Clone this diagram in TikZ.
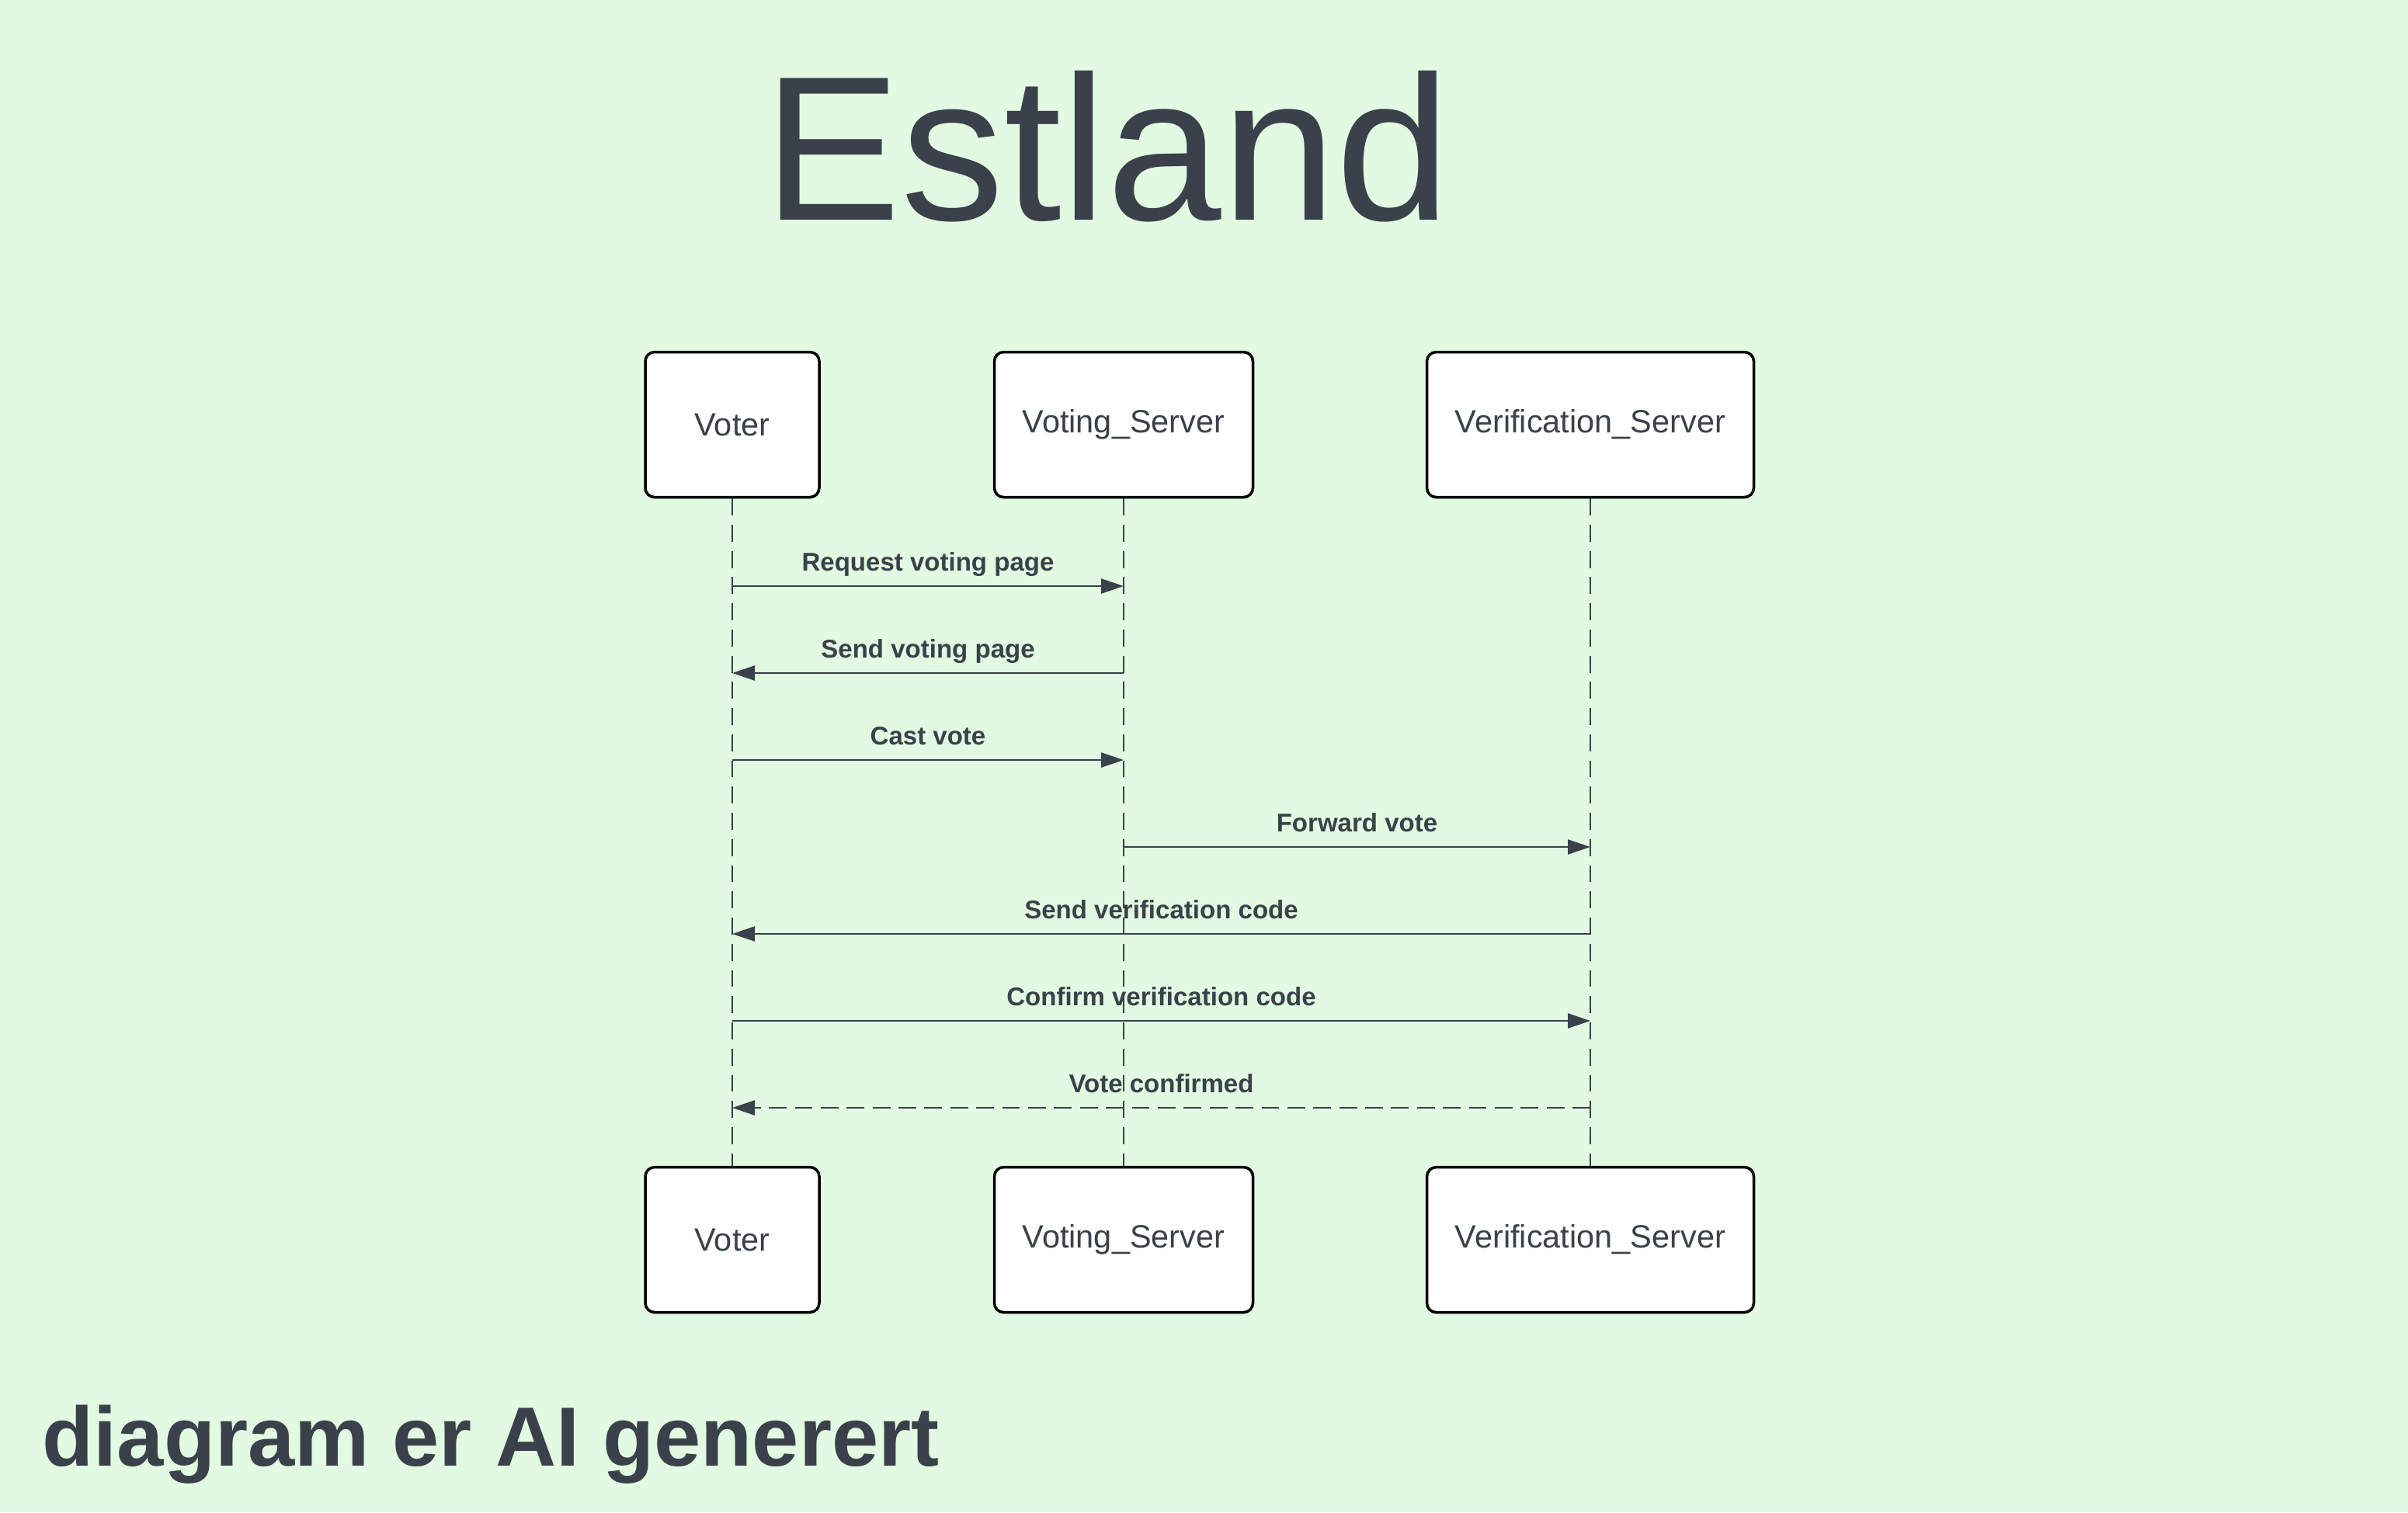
\documentclass[tikz,border=0pt]{standalone}
\usepackage{fontspec}
\setmainfont{Liberation Sans}
\usetikzlibrary{arrows.meta}

\definecolor{bgcol}{HTML}{E1FAE1}
\definecolor{inkcol}{HTML}{3A414A}

\begin{document}
\begin{tikzpicture}[
  actor/.style={rectangle, rounded corners=1.2mm, fill=white, draw=black, line width=1pt, minimum height=1.87cm, inner sep=0pt, text=inkcol, font=\fontsize{11.8}{13}\selectfont},
  lifeline/.style={draw=inkcol, line width=0.55pt, dash pattern=on 6.2pt off 3.4pt},
  msg/.style={draw=inkcol, line width=0.7pt, -{Triangle[length=2.9mm, width=1.9mm]}},
  reply/.style={msg, dash pattern=on 6.5pt off 3pt},
  msglabel/.style={midway, anchor=base, yshift=2mm, inner sep=0pt, text=inkcol, font=\bfseries\fontsize{9.4}{11}\selectfont}
]

  % Hintergrund
  \fill[bgcol] (0,0) rectangle (31.01,-19.48);

  % Titel und Fussnote
  \node[anchor=base, inner sep=0pt, text=inkcol, font=\fontsize{75.5}{80}\selectfont] (title) at (14.26,-2.83) {Estland};
  \node[anchor=base west, inner sep=0pt, text=inkcol, font=\bfseries\fontsize{30.8}{34}\selectfont] (note) at (0.54,-18.88) {diagram er AI generert};

  % Teilnehmer oben
  \node[actor, minimum width=2.24cm] (voterTop) at (9.43,-5.47) {Voter};
  \node[actor, minimum width=3.33cm] (serverTop) at (14.47,-5.47) {Voting\_Server};
  \node[actor, minimum width=4.21cm] (verifTop) at (20.48,-5.47) {Verification\_Server};

  % Teilnehmer unten
  \node[actor, minimum width=2.24cm] (voterBot) at (9.43,-15.97) {Voter};
  \node[actor, minimum width=3.33cm] (serverBot) at (14.47,-15.97) {Voting\_Server};
  \node[actor, minimum width=4.21cm] (verifBot) at (20.48,-15.97) {Verification\_Server};

  % Lebenslinien
  \draw[lifeline] (voterTop) -- (voterBot);
  \draw[lifeline] (serverTop) -- (serverBot);
  \draw[lifeline] (verifTop) -- (verifBot);

  % Nachrichten
  \draw[msg] (voterTop |- 0,-7.55) -- (serverTop |- 0,-7.55) node[msglabel] {Request voting page};
  \draw[msg] (serverTop |- 0,-8.67) -- (voterTop |- 0,-8.67) node[msglabel] {Send voting page};
  \draw[msg] (voterTop |- 0,-9.79) -- (serverTop |- 0,-9.79) node[msglabel] {Cast vote};
  \draw[msg] (serverTop |- 0,-10.91) -- (verifTop |- 0,-10.91) node[msglabel] {Forward vote};
  \draw[msg] (verifTop |- 0,-12.03) -- (voterTop |- 0,-12.03) node[msglabel] {Send verification code};
  \draw[msg] (voterTop |- 0,-13.15) -- (verifTop |- 0,-13.15) node[msglabel] {Confirm verification code};
  \draw[reply] (verifTop |- 0,-14.27) -- (voterTop |- 0,-14.27) node[msglabel] {Vote confirmed};

\end{tikzpicture}
\end{document}
